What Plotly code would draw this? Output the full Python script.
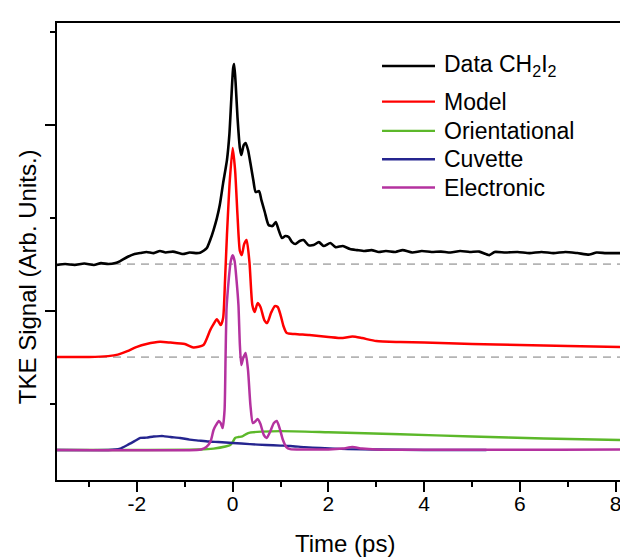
import plotly.graph_objects as go

# ---------------- data (signal above each trace's own baseline) ----------------
t_data = [-3.67, -3.5, -3.3, -3.1, -2.9, -2.75, -2.6, -2.45, -2.35, -2.2, -2.05, -1.93, -1.8,
          -1.65, -1.52, -1.4, -1.25, -1.04, -0.9, -0.75, -0.68, -0.6, -0.54, -0.47, -0.40,
          -0.33, -0.27, -0.20, -0.12, -0.07, -0.03, 0.01, 0.03, 0.06, 0.10, 0.15, 0.18, 0.23,
          0.27, 0.32, 0.37, 0.43, 0.48, 0.55, 0.60, 0.67, 0.75, 0.83, 0.90, 0.96, 1.03, 1.10,
          1.17, 1.24, 1.31, 1.40, 1.48, 1.58, 1.69, 1.80, 1.90, 2.04, 2.15, 2.30, 2.45, 2.6,
          2.75, 2.9, 3.05, 3.2, 3.4, 3.55, 3.75, 3.95, 4.15, 4.35, 4.55, 4.75, 4.95, 5.15,
          5.36, 5.47, 5.7, 5.95, 6.2, 6.45, 6.7, 6.95, 7.2, 7.45, 7.6, 7.8, 8.09]
y_data = [-0.05, 0.0, -0.05, 0.03, -0.05, 0.05, 0.0, 0.05, 0.16, 0.38, 0.54, 0.59, 0.65,
          0.59, 0.70, 0.62, 0.67, 0.54, 0.62, 0.59, 0.61, 0.73, 0.86, 1.29, 1.83,
          2.47, 3.17, 4.35, 5.59, 6.94, 8.82, 10.54, 10.75, 9.78, 7.90, 6.24, 5.86, 6.40,
          6.51, 6.13, 5.43, 4.52, 3.87, 3.92, 3.44, 2.80, 2.10, 2.04, 2.26, 1.83, 1.40, 1.51,
          1.45, 1.18, 1.08, 1.24, 1.29, 1.02, 1.02, 1.18, 0.97, 1.13, 0.91, 0.97, 0.81, 0.75,
          0.70, 0.75, 0.65, 0.70, 0.65, 0.75, 0.62, 0.70, 0.65, 0.67, 0.62, 0.70, 0.65, 0.67,
          0.48, 0.65, 0.62, 0.65, 0.59, 0.65, 0.59, 0.65, 0.59, 0.51, 0.62, 0.59, 0.59]

t_model = [-3.67, -3.0, -2.6, -2.4, -2.2, -2.0, -1.8, -1.52, -1.3, -1.0, -0.82, -0.61, -0.47,
           -0.40, -0.33, -0.25, -0.20, -0.16, -0.12, -0.06, 0.0, 0.05, 0.10, 0.15, 0.19, 0.24,
           0.29, 0.35, 0.41, 0.46, 0.52, 0.58, 0.66, 0.72, 0.80, 0.88, 0.94, 1.0, 1.06, 1.13,
           1.3, 1.6, 2.0, 2.3, 2.5, 2.7, 3.0, 3.5, 4.0, 5.0, 6.0, 7.0, 8.09]
y_model = [0.0, 0.0, 0.05, 0.13, 0.32, 0.55, 0.70, 0.82, 0.78, 0.70, 0.52, 0.65, 1.45,
           1.77, 2.03, 1.72, 2.10, 4.14, 6.56, 9.52, 11.24, 10.05, 7.63, 5.70, 5.48, 6.08,
           6.29, 5.11, 2.80, 2.42, 2.90, 2.69, 1.99, 1.83, 2.37, 2.74, 2.69, 2.26, 1.67, 1.29,
           1.24, 1.18, 1.08, 1.02, 1.10, 1.02, 0.86, 0.81, 0.78, 0.70, 0.65, 0.59, 0.54]

t_orient = [-3.67, -0.7, -0.4, -0.15, -0.05, 0.0, 0.05, 0.12, 0.2, 0.28, 0.36, 0.6, 1.0,
            2.0, 3.5, 5.0, 6.5, 8.09]
y_orient = [0.0, 0.03, 0.08, 0.19, 0.27, 0.43, 0.65, 0.70, 0.73, 0.86, 0.94, 0.99, 1.02,
            0.96, 0.85, 0.73, 0.62, 0.54]

t_cuv = [-3.67, -2.6, -2.45, -2.35, -2.2, -2.05, -1.93, -1.8, -1.65, -1.52, -1.45, -1.3,
         -1.1, -0.9, -0.7, -0.5, -0.3, 0.0, 0.36, 0.7, 1.0, 1.2, 1.5, 1.83, 2.4, 3.0, 4.0, 5.3]
y_cuv = [0.0, 0.0, 0.03, 0.08, 0.27, 0.48, 0.65, 0.67, 0.73, 0.75, 0.75, 0.70,
         0.65, 0.56, 0.51, 0.46, 0.43, 0.38, 0.32, 0.27, 0.24, 0.22, 0.16, 0.11, 0.05, 0.03, 0.0, 0.0]

t_elec = [-3.67, -0.75, -0.66, -0.55, -0.46, -0.40, -0.35, -0.29, -0.25, -0.21, -0.17, -0.15,
          -0.13, -0.11, -0.08, -0.04, 0.0, 0.04, 0.08, 0.12, 0.15, 0.18, 0.22, 0.27, 0.32, 0.37,
          0.42, 0.48, 0.52, 0.58, 0.65, 0.71, 0.78, 0.86, 0.92, 0.98, 1.05, 1.12, 1.2, 1.5,
          2.0, 2.3, 2.5, 2.7, 3.0, 8.09]
y_elec = [0.0, 0.0, 0.03, 0.16, 0.48, 1.08, 1.34, 1.56, 1.45, 1.18, 2.15, 4.84,
          7.53, 8.33, 9.25, 10.16, 10.48, 10.16, 9.14, 7.80, 5.65, 4.57, 4.95, 5.22, 4.30, 2.42,
          1.45, 1.56, 1.67, 1.40, 0.81, 0.65, 0.97, 1.45, 1.56, 1.18, 0.54, 0.16, 0.05, 0.03,
          0.03, 0.08, 0.16, 0.08, 0.03, 0.03]

# vertical stacking offsets of the traces
OFFSET_DATA = 10.0
OFFSET_MODEL = 5.0

series_names = ["Data CH<sub>2</sub>I<sub>2</sub>", "Model", "Orientational", "Cuvette", "Electronic"]
series_colors = ["#000000", "#ff0000", "#5cb82a", "#25258f", "#b4329f"]

x_tick_vals = [-2, 0, 2, 4, 6, 8]
x_tick_text = ["-2", "0", "2", "4", "6", "8"]
x_minor_vals = [-3, -1, 1, 3, 5, 7]

X_RANGE = [-3.67, 8.09]
Y_RANGE = [-1.61, 22.96]

FONT = "Liberation Sans, Arial, sans-serif"

fig = go.Figure()

series = [
    (t_data, [v + OFFSET_DATA for v in y_data]),
    (t_model, [v + OFFSET_MODEL for v in y_model]),
    (t_orient, y_orient),
    (t_cuv, y_cuv),
    (t_elec, y_elec),
]
widths = [2.6, 2.5, 2.4, 2.4, 2.5]
for (tx, ty), name, col, w in zip(series, series_names, series_colors, widths):
    fig.add_trace(go.Scatter(x=tx, y=ty, mode="lines", name=name,
                             line=dict(color=col, width=w, shape="spline", smoothing=0.6),
                             showlegend=False))

# dashed baselines of the offset traces
for off in (OFFSET_DATA, OFFSET_MODEL):
    fig.add_shape(type="line", xref="paper", x0=0, x1=1, yref="y", y0=off, y1=off,
                  line=dict(color="#b4b4b4", width=1.8, dash="8px,6px"), layer="below")

# manual legend (long line samples, as in the reference)
legend_y = [0.906, 0.828, 0.764, 0.702, 0.640]
for name, col, ly in zip(series_names, series_colors, legend_y):
    fig.add_shape(type="line", xref="paper", yref="paper", x0=0.5773, x1=0.6714,
                  y0=ly, y1=ly, line=dict(color=col, width=2.4))
    fig.add_annotation(xref="paper", yref="paper", x=0.6838, y=ly, text=name,
                       showarrow=False, xanchor="left", yanchor="middle",
                       font=dict(family=FONT, size=23, color="black"))

# axis titles
fig.add_annotation(xref="paper", yref="paper", x=0.5115, y=-0.14, text="Time (ps)",
                   showarrow=False, xanchor="center", yanchor="middle",
                   font=dict(family=FONT, size=24, color="black"))
fig.add_annotation(xref="paper", yref="paper", x=-0.0533, y=0.446,
                   text="TKE Signal (Arb. Units.)", textangle=-90,
                   showarrow=False, xanchor="center", yanchor="middle",
                   font=dict(family=FONT, size=24, color="black"))

fig.update_layout(
    width=620, height=557,
    margin=dict(l=57, r=0, t=23, b=77),
    paper_bgcolor="white", plot_bgcolor="white",
    font=dict(family=FONT, size=21, color="black"),
    xaxis=dict(range=X_RANGE, showgrid=False, zeroline=False,
               showline=True, linecolor="black", linewidth=2, mirror=True,
               ticks="outside", ticklen=10, tickwidth=2, tickcolor="black",
               tickmode="array", tickvals=x_tick_vals, ticktext=x_tick_text,
               tickfont=dict(family=FONT, size=21, color="black"),
               ticklabelstandoff=-6, ticklabeloverflow="allow", automargin=False,
               minor=dict(tickmode="array", tickvals=x_minor_vals, ticks="outside",
                          ticklen=5, tickwidth=2, tickcolor="black", showgrid=False)),
    yaxis=dict(range=Y_RANGE, showgrid=False, zeroline=False, automargin=False,
               showline=True, linecolor="black", linewidth=2,
               ticks="outside", ticklen=10, tickwidth=2, tickcolor="black",
               tickmode="linear", tick0=7.5, dtick=10, showticklabels=False,
               minor=dict(tickmode="linear", tick0=2.5, dtick=5, ticks="outside",
                          ticklen=5, tickwidth=2, tickcolor="black", showgrid=False)),
)

# remove the browser's default 8px body margin so the figure fills the window exactly
fig.write_html("out.html",
               config={"displayModeBar": False, "staticPlot": True},
               post_script="document.body.style.margin='0';document.body.style.overflow='hidden';")
